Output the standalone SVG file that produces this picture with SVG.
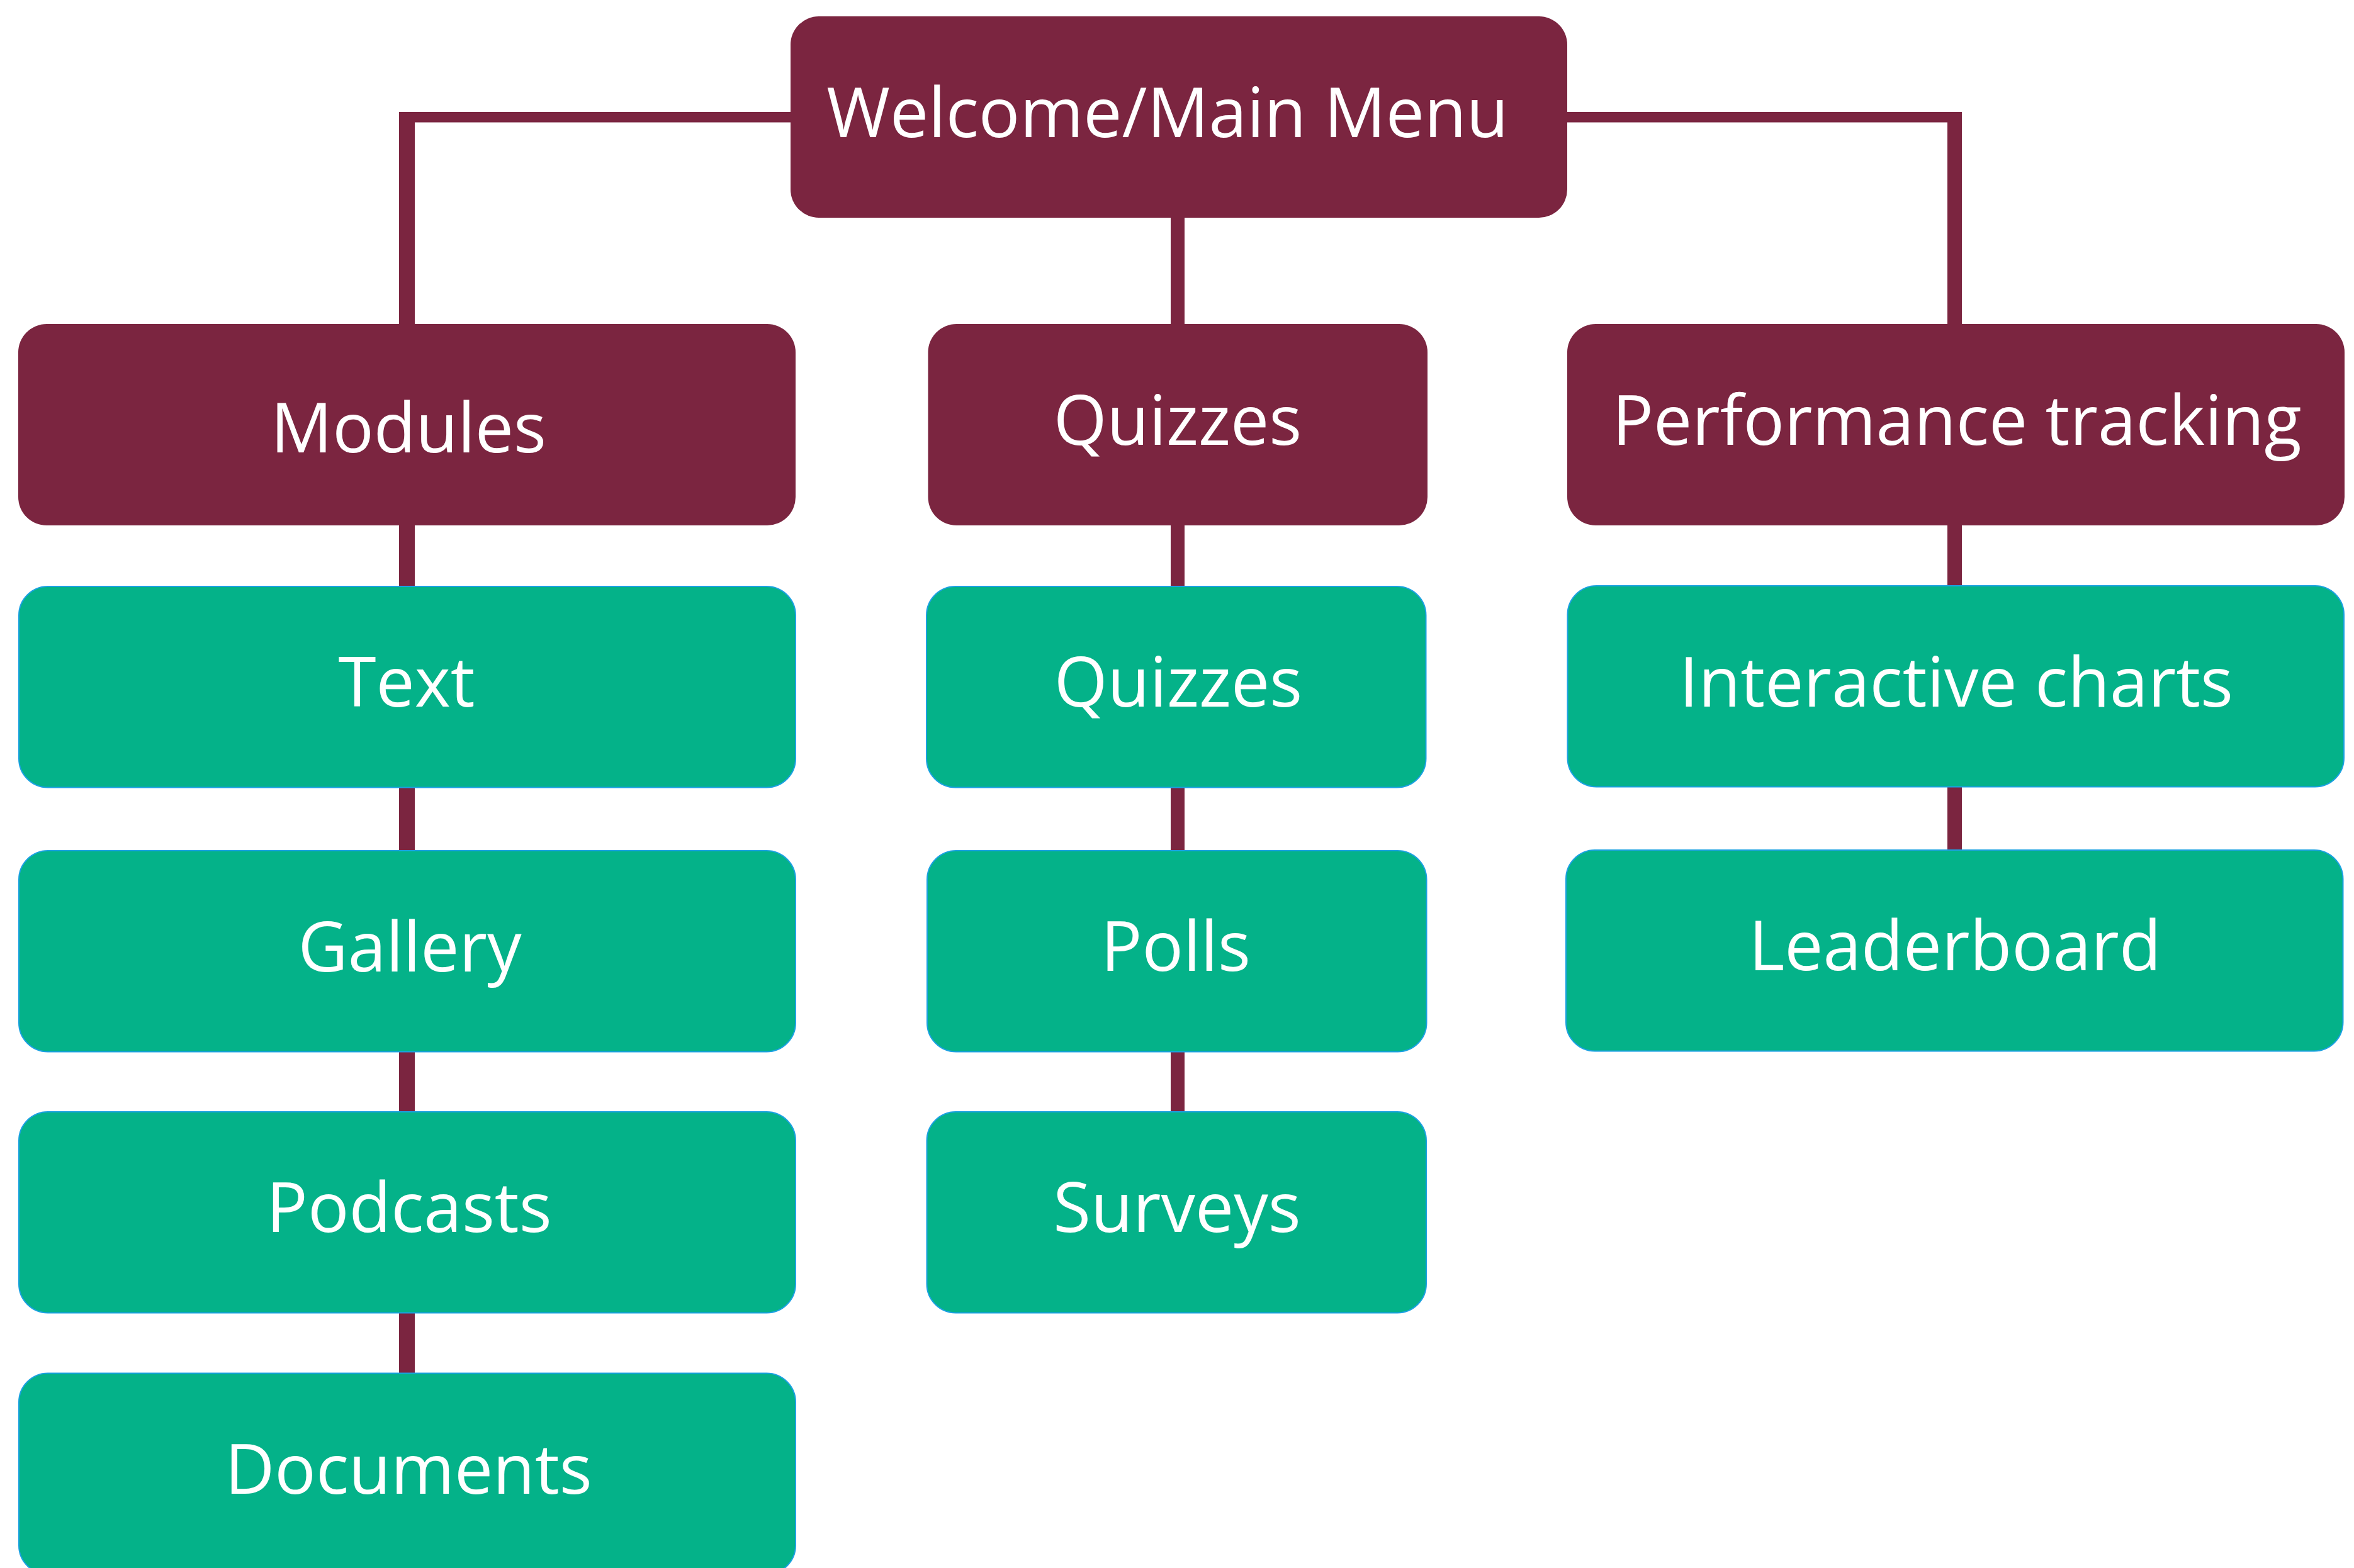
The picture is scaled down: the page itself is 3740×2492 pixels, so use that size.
<svg xmlns="http://www.w3.org/2000/svg" width="3740" height="2492" viewBox="0 0 3740 2492">
  <style>
    .head { fill: #7B2540; }
    .leaf { fill: #04B289; stroke: #1BA1E2; stroke-width: 2; }
    .wire { fill: #7B2540; }
    .label { font-family: "Open Sans", "Noto Sans", "Liberation Sans", sans-serif; font-size: 109px; fill: #FFFFFF; text-anchor: middle; }
  </style>
  <rect width="3740" height="2492" fill="#FFFFFF"/>

  <!-- tree connectors, drawn underneath the boxes -->
  <g id="connectors">
    <rect class="wire" x="634" y="178" width="2483" height="16.5"/>
    <rect class="wire" x="634" y="178" width="25" height="2030"/>
    <rect class="wire" x="1860" y="340" width="22" height="1440"/>
    <rect class="wire" x="3094" y="178" width="23" height="1190"/>
  </g>

  <g id="main-menu">
    <rect class="head" x="1256" y="26" width="1234" height="320" rx="45" ry="45"/>
    <text class="label" x="1855" y="218">Welcome/Main Menu</text>
  </g>

  <g id="modules">
    <rect class="head" x="29" y="515" width="1235" height="320" rx="45" ry="45"/>
    <text class="label" x="649" y="719">Modules</text>
  </g>
  <g id="quizzes-section">
    <rect class="head" x="1474.5" y="515" width="793.5" height="320" rx="45" ry="45"/>
    <text class="label" x="1871" y="707">Quizzes</text>
  </g>
  <g id="performance-tracking">
    <rect class="head" x="2490" y="515" width="1235" height="320" rx="45" ry="45"/>
    <text class="label" x="3109" y="707">Performance tracking</text>
  </g>

  <!-- Modules column -->
  <g id="text">
    <rect class="leaf" x="30" y="932" width="1234" height="319.5" rx="46" ry="46"/>
    <text class="label" x="646" y="1123">Text</text>
  </g>
  <g id="gallery">
    <rect class="leaf" x="30" y="1352" width="1234" height="319.5" rx="46" ry="46"/>
    <text class="label" x="651" y="1544">Gallery</text>
  </g>
  <g id="podcasts">
    <rect class="leaf" x="30" y="1767" width="1234" height="319.5" rx="46" ry="46"/>
    <text class="label" x="650" y="1958">Podcasts</text>
  </g>
  <g id="documents">
    <rect class="leaf" x="30" y="2182.5" width="1234" height="319.5" rx="46" ry="46"/>
    <text class="label" x="649" y="2374">Documents</text>
  </g>

  <!-- Quizzes column -->
  <g id="quizzes">
    <rect class="leaf" x="1472" y="932" width="793.5" height="319.5" rx="46" ry="46"/>
    <text class="label" x="1872" y="1123">Quizzes</text>
  </g>
  <g id="polls">
    <rect class="leaf" x="1473" y="1352" width="793.5" height="319.5" rx="46" ry="46"/>
    <text class="label" x="1868" y="1543">Polls</text>
  </g>
  <g id="surveys">
    <rect class="leaf" x="1472.5" y="1767" width="793.5" height="319.5" rx="46" ry="46"/>
    <text class="label" x="1870" y="1958">Surveys</text>
  </g>

  <!-- Performance tracking column -->
  <g id="interactive-charts">
    <rect class="leaf" x="2490.5" y="931" width="1233.5" height="319.5" rx="46" ry="46"/>
    <text class="label" x="3108" y="1123">Interactive charts</text>
  </g>
  <g id="leaderboard">
    <rect class="leaf" x="2488" y="1351" width="1234.5" height="319.5" rx="46" ry="46"/>
    <text class="label" x="3106" y="1542">Leaderboard</text>
  </g>
</svg>
